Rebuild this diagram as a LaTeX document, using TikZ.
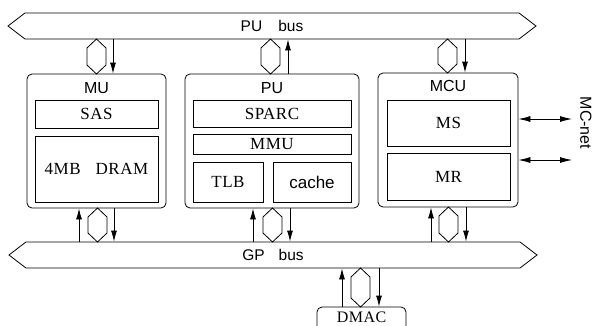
\documentclass[tikz,border=0pt]{standalone}
\usepackage{fontspec}
\setmainfont{Liberation Serif}
\setsansfont{Liberation Sans}
\newfontfamily\spserif[LetterSpace=3]{Liberation Serif}
\usetikzlibrary{arrows.meta,shapes.symbols}
\tikzset{
  bus/.style={draw, line width=0.8pt, signal, signal to=west and east, signal pointer angle=75,
    minimum width=528pt, minimum height=26pt, inner sep=0pt,
    font=\sffamily\fontsize{15.5}{15.5}\selectfont},
  unit/.style={draw, line width=0.8pt, rounded corners=5pt, inner sep=0pt},
  part/.style={draw, line width=0.8pt, inner sep=0pt, font=\spserif\fontsize{17}{17}\selectfont},
  ulabel/.style={inner sep=0pt, font=\sffamily\fontsize{16}{16}\selectfont},
  arr/.style={line width=0.8pt, -{Latex[length=11pt,width=6pt]}},
  darr/.style={line width=0.8pt, {Latex[length=12pt,width=6pt]}-{Latex[length=12pt,width=6pt]}},
  hexline/.style={draw, line width=0.8pt, line join=round}
}
\newcommand{\hexcon}[3]{\draw[hexline] (#1,#2) -- (#1-9.5,#2+9) -- (#1-9.5,#3-9) -- (#1,#3) -- (#1+9.5,#3-9) -- (#1+9.5,#2+9) -- cycle;}
\begin{document}
\begin{tikzpicture}[x=1pt,y=-1pt]
\useasboundingbox (0,0) rectangle (592,325);
% buses
\node[bus] (pubus) at (272,26) {PU\hspace{16pt}bus};
\node[bus] (gpbus) at (273,255) {GP\hspace{14pt}bus};
% units
\node[unit, minimum width=139pt, minimum height=134pt] (mu) at (96.5,141) {};
\node[unit, minimum width=174pt, minimum height=134pt] (pu) at (272,141) {};
\node[unit, minimum width=140pt, minimum height=134pt] (mcu) at (448,140) {};
\node[unit, minimum width=89pt, minimum height=26pt, text depth=5pt, font=\spserif\fontsize{16}{16}\selectfont] (dmac) at (361.5,320) {DMAC};
% unit labels
\node[ulabel] (mulabel) at (96.5,88) {MU};
\node[ulabel] (pulabel) at (272,88) {PU};
\node[ulabel] (mculabel) at (448,86) {MCU};
% parts
\node[part, minimum width=123pt, minimum height=28pt] (sas) at (96.5,114) {SAS};
\node[part, minimum width=123pt, minimum height=66pt] (dram) at (96.5,169) {4MB\hspace{15pt}DRAM};
\node[part, minimum width=158pt, minimum height=27pt] (sparc) at (272,113.5) {SPARC};
\node[part, minimum width=158pt, minimum height=20pt] (mmu) at (272,144) {MMU};
\node[part, minimum width=70pt, minimum height=40pt] (tlb) at (228,182) {TLB};
\node[part, minimum width=78pt, minimum height=40pt, font=\sffamily\fontsize{17}{17}\selectfont] (cache) at (312,182) {cache};
\node[part, minimum width=123pt, minimum height=46pt] (ms) at (448.5,123) {MS};
\node[part, minimum width=123pt, minimum height=47pt] (mr) at (448.5,176.5) {MR};
% hex connectors
\hexcon{96.5}{39}{74}
\hexcon{270.5}{39}{74}
\hexcon{447.5}{39}{73}
\hexcon{97.5}{208}{242}
\hexcon{272.5}{208}{242}
\hexcon{448.5}{207}{242}
\hexcon{360.5}{268}{307}
% top arrows
\draw[arr] (113,0 |- pubus.south) -- (113,0 |- mu.north);
\draw[arr] (288,0 |- pu.north) -- (288,0 |- pubus.south);
\draw[arr] (465,0 |- pubus.south) -- (465,0 |- mcu.north);
% bottom arrows
\draw[arr] (79,0 |- gpbus.north) -- (79,0 |- mu.south);
\draw[arr] (114,0 |- mu.south) -- (114,0 |- gpbus.north);
\draw[arr] (253,0 |- gpbus.north) -- (253,0 |- pu.south);
\draw[arr] (290,0 |- pu.south) -- (290,0 |- gpbus.north);
\draw[arr] (431,0 |- gpbus.north) -- (431,0 |- mcu.south);
\draw[arr] (466,0 |- mcu.south) -- (466,0 |- gpbus.north);
\draw[arr] (342,0 |- dmac.north) -- (342,0 |- gpbus.south);
\draw[arr] (379,0 |- gpbus.south) -- (379,0 |- dmac.north);
% MC-net
\coordinate (net1) at (572,119);
\coordinate (net2) at (572,160);
\draw[darr] (mcu.east |- net1) -- (net1);
\draw[darr] (mcu.east |- net2) -- (net2);
\node[ulabel, rotate=-90] (mcnet) at (586,123) {MC-net};
\end{tikzpicture}
\end{document}
